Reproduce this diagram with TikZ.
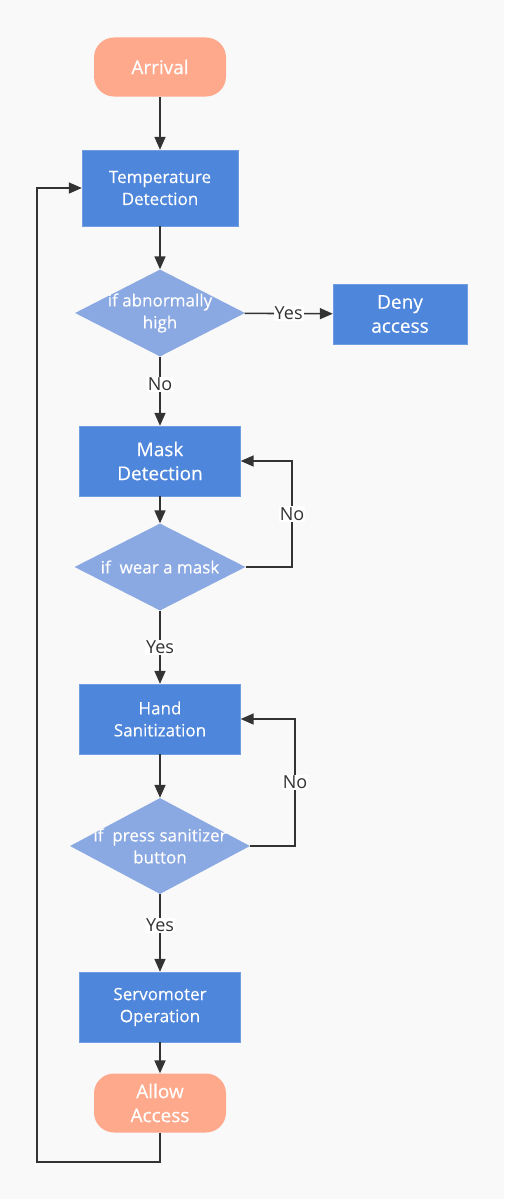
\documentclass[tikz,border=0pt]{standalone}
\usepackage{fontspec}
\setmainfont{Open Sans}
\newfontfamily\wfont{Open Sans}[FakeBold=0.3]
\usetikzlibrary{shapes.geometric,arrows.meta}
\definecolor{bg}{HTML}{F9F9F9}
\definecolor{salmon}{HTML}{FFA98C}
\definecolor{boxblue}{HTML}{4E86DB}
\definecolor{diablue}{HTML}{8AA8E2}
\definecolor{ink}{HTML}{333333}
\tikzset{
  term/.style={rectangle, rounded corners=20pt, fill=salmon, text=white, minimum width=132pt, minimum height=59pt, align=center, font=\wfont\fontsize{19}{24}\selectfont},
  proc/.style={rectangle, fill=boxblue, draw=boxblue!80!white, text=white, minimum width=161pt, minimum height=70pt, align=center, font=\wfont\fontsize{17}{22}\selectfont},
  dec/.style={diamond, fill=diablue, text=white, aspect=2, inner sep=-30pt, align=center, font=\wfont\fontsize{17}{22}\selectfont},
  conn/.style={draw=ink, line width=1.6pt, -{Triangle[length=13pt,width=11pt]}},
  lbl/.style={fill=white, text=ink, inner sep=1pt, font=\fontsize{18}{20}\selectfont}
}
\begin{document}
\begin{tikzpicture}[x=1pt,y=-1pt]
\fill[bg] (0,0) rectangle (504,1199);
\useasboundingbox (0,0) rectangle (504,1199);
\node[term] (arr) at (160,67) {Arrival};
\node[proc, minimum width=156pt, minimum height=76pt] (temp) at (160,188) {Temperature\\Detection};
\node[dec, minimum width=170pt, minimum height=87pt] (d1) at (160,313) {if abnormally\\high};
\node[proc, minimum width=134pt, minimum height=60pt, font=\wfont\fontsize{19}{24}\selectfont] (deny) at (400,314) {Deny\\access};
\node[proc, font=\wfont\fontsize{19}{24}\selectfont] (mask) at (160,461) {Mask\\Detection};
\node[dec, minimum width=171pt, minimum height=87pt] (d2) at (160,567) {if~ wear a mask};
\node[proc] (hand) at (160,719) {Hand\\Sanitization};
\node[dec, minimum width=180pt, minimum height=96pt] (d3) at (160,846) {if~ press sanitizer\\button};
\node[proc] (servo) at (160,1007) {Servomoter\\Operation};
\node[term] (allow) at (160,1103) {Allow\\Access};
\coordinate (c1) at (292,567);
\coordinate (c2) at (292,461);
\coordinate (c3) at (295,846);
\coordinate (c4) at (295,719);
\coordinate (c5) at (160,1162);
\coordinate (c6) at (37,1162);
\coordinate (c7) at (37,188);
\draw[conn] (arr) -- (temp);
\draw[conn] (temp) -- (d1);
\draw[conn] (d1) -- node[lbl] {Yes} (deny);
\draw[conn] (d1) -- node[lbl, pos=0.4] {No} (mask);
\draw[conn] (mask) -- (d2);
\draw[conn] (d2.east) -- (c1) -- node[lbl] {No} (c2) -- (mask.east);
\draw[conn] (d2) -- node[lbl] {Yes} (hand);
\draw[conn] (hand) -- (d3);
\draw[conn] (d3.east) -- (c3) -- node[lbl, pos=0.5] {No} (c4) -- (hand.east);
\draw[conn] (d3) -- node[lbl, pos=0.4] {Yes} (servo);
\draw[conn] (servo) -- (allow);
\draw[conn] (allow.south) -- (c5) -- (c6) -- (c7) -- (temp.west);
\end{tikzpicture}
\end{document}
